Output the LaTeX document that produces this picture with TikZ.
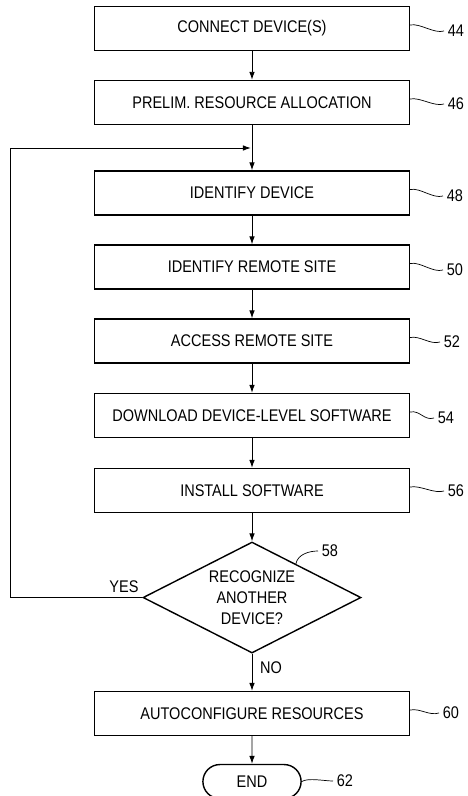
\documentclass[tikz,border=0pt]{standalone}
\usepackage{fontspec}
\setmainfont{Liberation Sans}[FakeStretch=0.86]
\usetikzlibrary{arrows.meta,shapes.geometric,shapes.misc,calc}

\begin{document}
\begin{tikzpicture}[x=0.03cm,y=-0.03cm,>={Latex[length=2.4mm,width=1.7mm]},node distance=2.22cm,
  font=\fontsize{14.4}{18}\selectfont,
  process/.style={rectangle,draw,line width=1.2pt,minimum width=9.45cm,minimum height=1.32cm,inner sep=2pt},
  decision/.style={diamond,draw,line width=1.2pt,aspect=2,minimum width=6.54cm,minimum height=3.33cm,inner sep=0pt,align=center},
  terminal/.style={rounded rectangle,draw,line width=1.2pt,minimum width=3.18cm,minimum height=1.02cm},
  flow/.style={->,line width=0.8pt},
  tag/.style={line width=0.6pt},
  num/.style={anchor=west,inner sep=3pt}]

            \useasboundingbox (0,0) rectangle (467,796);

            \node[process] (connect) at (252,28.5) {CONNECT DEVICE(S)};
            \node[process] (prelim) [below of = connect] {PRELIM. RESOURCE ALLOCATION};
            \node[process] (ident) [below of = prelim, node distance=2.715cm] {IDENTIFY DEVICE};
            \node[process] (site) [below of = ident] {IDENTIFY REMOTE SITE};
            \node[process] (access) [below of = site] {ACCESS REMOTE SITE};
            \node[process] (download) [below of = access, node distance=2.235cm] {DOWNLOAD DEVICE-LEVEL SOFTWARE};
            \node[process] (install) [below of = download, node distance=2.25cm] {INSTALL SOFTWARE};
            \node[decision] (recog) [below of = install, node distance=3.21cm] {RECOGNIZE\\ANOTHER\\DEVICE?};
            \node[process] (autoconf) [below of = recog, node distance=3.48cm] {AUTOCONFIGURE RESOURCES};
            \node[terminal] (end) [below of = autoconf, node distance=2.04cm] {END};

            \node (yes) at (124,587) {YES};
            \node (no) at (271,668) {NO};

            \coordinate (corner) at (10,148);
            \coordinate (join) at (prelim.south |- corner);

            % reference numerals
            \node[num] (l44) at (444,31) {44};
            \node[num] (l46) at (444,104) {46};
            \node[num] (l48) at (443,196) {48};
            \node[num] (l50) at (443,270) {50};
            \node[num] (l52) at (440,342) {52};
            \node[num] (l54) at (434,418) {54};
            \node[num] (l56) at (444,491) {56};
            \node[num] (l58) at (318,551) {58};
            \node[num] (l60) at (439,713) {60};
            \node[num] (l62) at (333,781) {62};

            \draw[flow] (connect) -- (prelim);
            \draw[flow] (prelim) -- (ident);
            \draw[flow] (ident) -- (site);
            \draw[flow] (site) -- (access);
            \draw[flow] (access) -- (download);
            \draw[flow] (download) -- (install);
            \draw[flow] (install) -- (recog);
            \draw[flow] (recog) -- (autoconf);
            \draw[flow] (autoconf) -- (end);
            \draw[flow, shorten >=1pt] (recog.west) -| (corner) -- (join);

            \foreach \b/\t in {connect/l44, prelim/l46, ident/l48, site/l50, access/l52, download/l54, install/l56, autoconf/l60}
              \draw[tag] ([yshift=3pt]\b.east) .. controls +(10,-2) and +(-10,3) .. (\t.west);
            \draw[tag] ($(recog.north)!0.4!(recog.east)$) .. controls +(2,-10) and +(-8,0) .. (l58.west);
            \draw[tag] (end.east) .. controls +(6,-4) and +(-8,0) .. (l62.west);

            ;
        \end{tikzpicture}
\end{document}
